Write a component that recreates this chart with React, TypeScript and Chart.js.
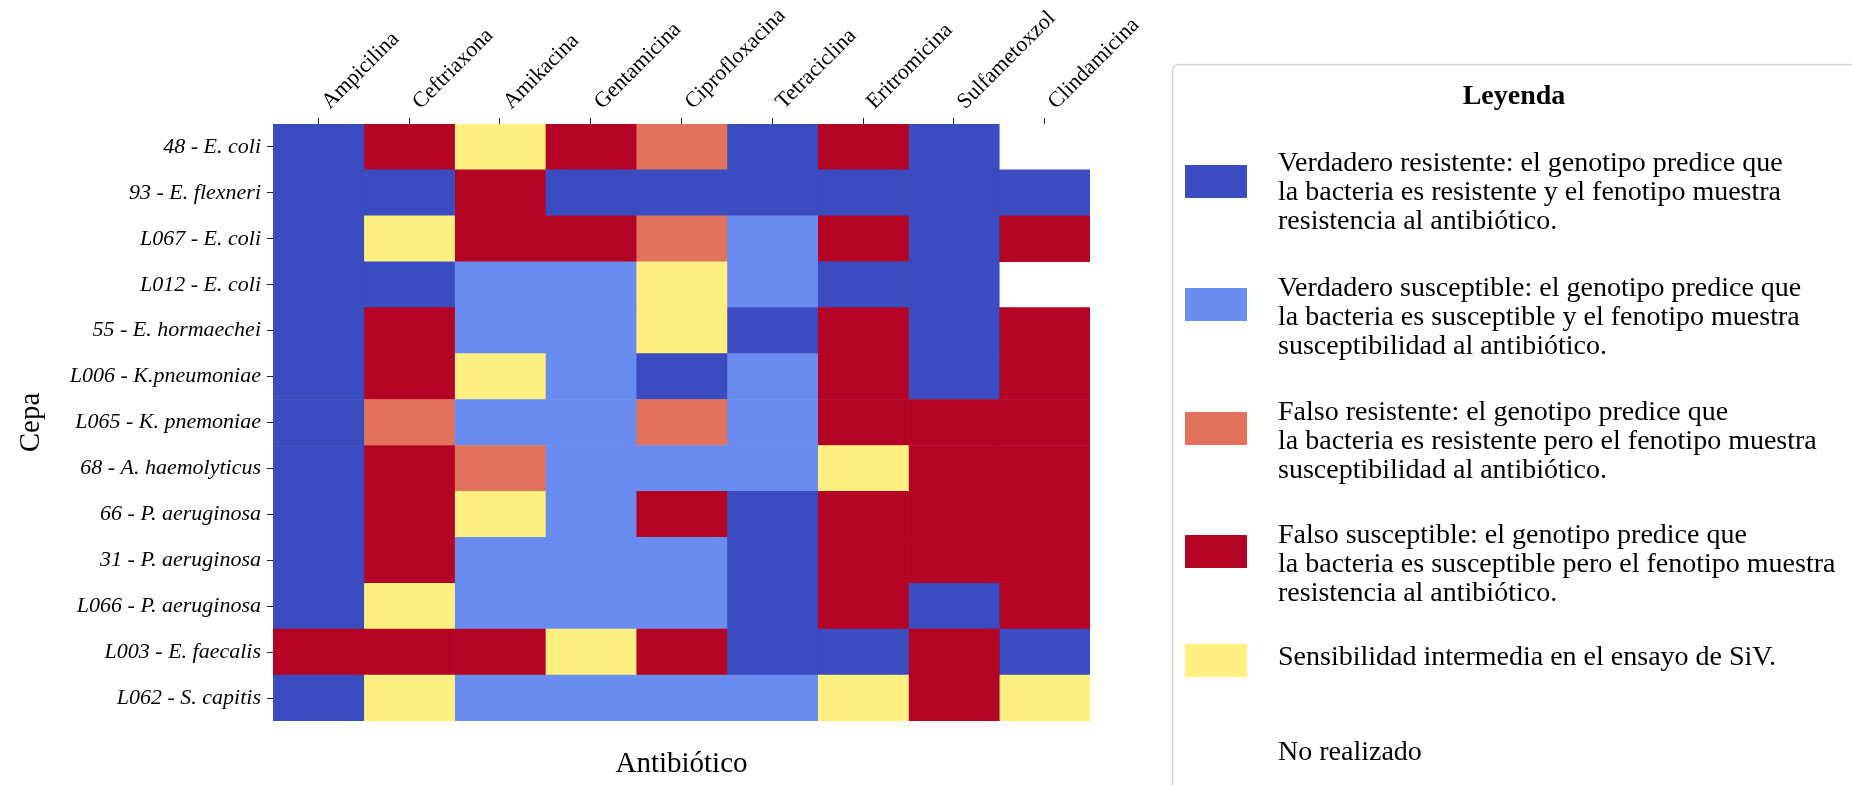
import { useEffect, useRef } from 'react';
import { Chart, registerables } from 'chart.js';

Chart.register(...registerables);

// Result codes: VR verdadero resistente, VS verdadero susceptible,
// FR falso resistente, FS falso susceptible, SI sensibilidad intermedia, null no realizado
type Resultado = 'VR' | 'VS' | 'FR' | 'FS' | 'SI' | null;

const cepas = [
  '48 - E. coli',
  '93 - E. flexneri',
  'L067 - E. coli',
  'L012 - E. coli',
  '55 - E. hormaechei',
  'L006 - K.pneumoniae',
  'L065 - K. pnemoniae',
  '68 - A. haemolyticus',
  '66 - P. aeruginosa',
  '31 - P. aeruginosa',
  'L066 - P. aeruginosa',
  'L003 - E. faecalis',
  'L062 - S. capitis',
];

const antibioticos = [
  'Ampicilina',
  'Ceftriaxona',
  'Amikacina',
  'Gentamicina',
  'Ciprofloxacina',
  'Tetraciclina',
  'Eritromicina',
  'Sulfametoxzol',
  'Clindamicina',
];

// One column per antibiotic, one entry per strain (same order as cepas)
const ampicilina: Resultado[] = ['VR', 'VR', 'VR', 'VR', 'VR', 'VR', 'VR', 'VR', 'VR', 'VR', 'VR', 'FS', 'VR'];
const ceftriaxona: Resultado[] = ['FS', 'VR', 'SI', 'VR', 'FS', 'FS', 'FR', 'FS', 'FS', 'FS', 'SI', 'FS', 'SI'];
const amikacina: Resultado[] = ['SI', 'FS', 'FS', 'VS', 'VS', 'SI', 'VS', 'FR', 'SI', 'VS', 'VS', 'FS', 'VS'];
const gentamicina: Resultado[] = ['FS', 'VR', 'FS', 'VS', 'VS', 'VS', 'VS', 'VS', 'VS', 'VS', 'VS', 'SI', 'VS'];
const ciprofloxacina: Resultado[] = ['FR', 'VR', 'FR', 'SI', 'SI', 'VR', 'FR', 'VS', 'FS', 'VS', 'VS', 'FS', 'VS'];
const tetraciclina: Resultado[] = ['VR', 'VR', 'VS', 'VS', 'VR', 'VS', 'VS', 'VS', 'VR', 'VR', 'VR', 'VR', 'VS'];
const eritromicina: Resultado[] = ['FS', 'VR', 'FS', 'VR', 'FS', 'FS', 'FS', 'SI', 'FS', 'FS', 'FS', 'VR', 'SI'];
const sulfametoxzol: Resultado[] = ['VR', 'VR', 'VR', 'VR', 'VR', 'VR', 'FS', 'FS', 'FS', 'FS', 'VR', 'FS', 'FS'];
const clindamicina: Resultado[] = [null, 'VR', 'FS', null, 'FS', 'FS', 'FS', 'FS', 'FS', 'FS', 'FS', 'VR', 'SI'];

const columnas = [
  ampicilina,
  ceftriaxona,
  amikacina,
  gentamicina,
  ciprofloxacina,
  tetraciclina,
  eritromicina,
  sulfametoxzol,
  clindamicina,
];

const colores: Record<string, string> = {
  VR: '#3b4cc0',
  VS: '#6a8bef',
  FR: '#e3725c',
  FS: '#b40426',
  SI: '#fff082',
};

const leyendaCodigos: Resultado[] = ['VR', 'VS', 'FR', 'FS', 'SI', null];
const leyendaTextos: string[][] = [
  [
    'Verdadero resistente: el genotipo predice que',
    'la bacteria es resistente y el fenotipo muestra',
    'resistencia al antibiótico.',
  ],
  [
    'Verdadero susceptible: el genotipo predice que',
    'la bacteria es susceptible y el fenotipo muestra',
    'susceptibilidad al antibiótico.',
  ],
  [
    'Falso resistente: el genotipo predice que',
    'la bacteria es resistente pero el fenotipo muestra',
    'susceptibilidad al antibiótico.',
  ],
  [
    'Falso susceptible: el genotipo predice que',
    'la bacteria es susceptible pero el fenotipo muestra',
    'resistencia al antibiótico.',
  ],
  ['Sensibilidad intermedia en el ensayo de SiV.'],
  ['No realizado'],
];

const SERIF = '"Liberation Serif", "Times New Roman", serif';

// Swatch tops and first-line baselines of the legend entries
const legendSwatchTop = [165, 288, 412, 535, 644, 738];
const legendBaseline = [171, 295.5, 419.5, 542.5, 665, 760];

const panelPlugin = {
  id: 'panelLeyenda',
  afterDraw(chart: Chart) {
    const { ctx, chartArea } = chart;
    ctx.save();
    ctx.fillStyle = '#000';

    // axis titles
    ctx.font = `29px ${SERIF}`;
    ctx.textAlign = 'center';
    ctx.textBaseline = 'alphabetic';
    ctx.fillText('Antibiótico', (chartArea.left + chartArea.right) / 2, 772);
    ctx.save();
    ctx.translate(39, (chartArea.top + chartArea.bottom) / 2);
    ctx.rotate(-Math.PI / 2);
    ctx.fillText('Cepa', 0, 0);
    ctx.restore();

    // legend panel
    const bx = 1172.5;
    const by = 64.5;
    ctx.beginPath();
    ctx.roundRect(bx, by, 1852 - bx + 10, 785 - by + 20, 6);
    ctx.fillStyle = '#ffffff';
    ctx.fill();
    ctx.strokeStyle = '#d4d4d4';
    ctx.lineWidth = 1.5;
    ctx.stroke();

    ctx.fillStyle = '#000';
    ctx.font = `bold 28px ${SERIF}`;
    ctx.textAlign = 'center';
    ctx.textBaseline = 'middle';
    ctx.fillText('Leyenda', 1514, 97);

    ctx.textAlign = 'left';
    ctx.textBaseline = 'alphabetic';
    ctx.font = `28px ${SERIF}`;
    leyendaTextos.forEach((lineas, i) => {
      const codigo = leyendaCodigos[i];
      if (codigo) {
        ctx.fillStyle = colores[codigo];
        ctx.fillRect(1185, legendSwatchTop[i], 62, 33);
      }
      ctx.fillStyle = '#000';
      lineas.forEach((t, k) => {
        ctx.fillText(t, 1278, legendBaseline[i] + k * 29);
      });
    });
    ctx.restore();
  },
};

export default function App() {
  const canvasRef = useRef<HTMLCanvasElement | null>(null);

  useEffect(() => {
    const canvas = canvasRef.current;
    if (!canvas) return;

    const datasets = antibioticos.map((nombre, j) => ({
      label: nombre,
      data: columnas[j].map((c) => (c == null ? null : [j, j + 1])),
      backgroundColor: columnas[j].map((c) => (c ? colores[c] : 'rgba(0,0,0,0)')),
      borderWidth: 0,
      grouped: false,
      barPercentage: 1,
      categoryPercentage: 1,
    }));

    const chart = new Chart(canvas, {
      type: 'bar',
      data: { labels: cepas, datasets: datasets as any },
      options: {
        indexAxis: 'y',
        responsive: false,
        animation: false,
        events: [],
        layout: { padding: { left: 8, right: 762, top: 0, bottom: 64 } },
        plugins: {
          legend: { display: false },
          tooltip: { enabled: false },
        },
        scales: {
          x: {
            type: 'linear',
            position: 'top',
            min: 0,
            max: antibioticos.length,
            afterBuildTicks: (scale: any) => {
              scale.ticks = antibioticos.map((_, j) => ({ value: j + 0.5 }));
            },
            afterFit: (scale: any) => {
              scale.height = 124;
            },
            ticks: {
              autoSkip: false,
              minRotation: 45,
              maxRotation: 45,
              padding: 3,
              labelOffset: 26,
              color: '#000',
              font: { family: SERIF, size: 22 },
              callback: (_v: any, i: number) => antibioticos[i],
            },
            grid: {
              display: true,
              drawOnChartArea: false,
              drawTicks: true,
              tickLength: 6,
              color: '#222',
              lineWidth: 1,
            },
            border: { display: false },
          },
          y: {
            type: 'category',
            position: 'left',
            afterFit: (scale: any) => {
              scale.width = 265;
            },
            ticks: {
              autoSkip: false,
              padding: 6,
              color: '#000',
              font: { family: SERIF, size: 22, style: 'italic' },
            },
            grid: {
              display: true,
              offset: false,
              drawOnChartArea: false,
              drawTicks: true,
              tickLength: 6,
              color: '#222',
              lineWidth: 1,
            },
            border: { display: false },
          },
        },
      } as any,
      plugins: [panelPlugin],
    });

    return () => chart.destroy();
  }, []);

  return (
    <div
      style={{
        position: 'absolute',
        left: 0,
        top: 0,
        width: 1852,
        height: 785,
        background: '#ffffff',
        overflow: 'hidden',
      }}
    >
      <canvas ref={canvasRef} width={1852} height={785} style={{ display: 'block' }} />
    </div>
  );
}
